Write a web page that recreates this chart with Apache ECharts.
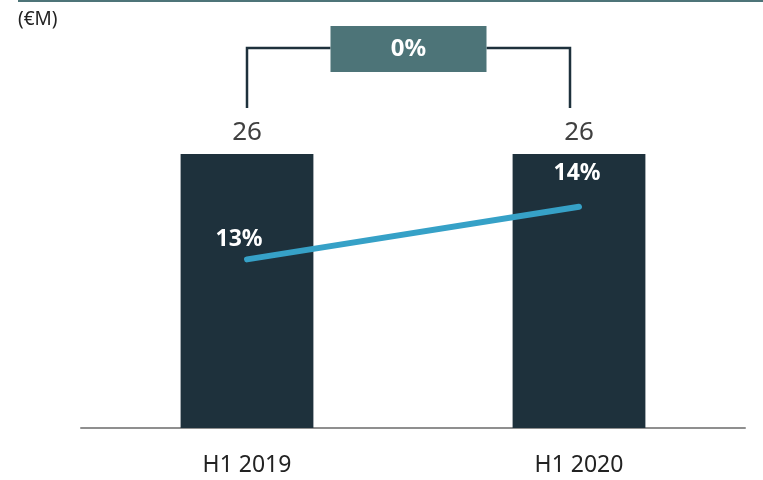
<!DOCTYPE html>
<html>
<head>
<meta charset="utf-8">
<script src="https://cdn.jsdelivr.net/npm/echarts@6/dist/echarts.min.js"></script>
<style>
  html, body { margin: 0; padding: 0; background: #fff; }
  #chart { width: 763px; height: 480px; }
</style>
</head>
<body>
<div id="chart"></div>
<script>
const categories = ["H1 2019", "H1 2020"];
const revenue = [26, 26];
const margin = [13, 14];
const marginLabels = ["13%", "14%"];
const growthLabel = "0%";
const unitLabel = "(€M)";

const font = "Noto Sans";
const chart = echarts.init(document.getElementById("chart"));

const option = {
  animation: false,
  textStyle: { fontFamily: font },
  grid: { left: 81, right: 18, top: 154, bottom: 52 },
  xAxis: {
    type: "category",
    data: categories,
    axisLine: { lineStyle: { color: "#8f8f8f", width: 2 } },
    axisTick: { show: false },
    axisLabel: { color: "#222", fontSize: 23, margin: 26, fontFamily: font }
  },
  yAxis: [
    { type: "value", min: 0, max: 26, show: false },
    { type: "value", min: 9.8, max: 15, show: false }
  ],
  series: [
    {
      type: "bar",
      data: revenue,
      barWidth: "40%",
      itemStyle: { color: "#1e313c" },
      label: {
        show: true,
        position: "top",
        distance: 8,
        color: "#404040",
        fontSize: 26,
        fontFamily: font
      }
    },
    {
      type: "line",
      yAxisIndex: 1,
      data: margin.map((v, i) => ({
        value: v,
        label: {
          formatter: marginLabels[i],
          offset: i === 0 ? [-8, 0] : [-2, -14]
        }
      })),
      symbol: "circle",
      symbolSize: 0,
      lineStyle: { color: "#36a1c7", width: 6, cap: "round" },
      label: {
        show: true,
        position: "top",
        distance: 8,
        color: "#fff",
        fontWeight: "bold",
        fontSize: 23,
        fontFamily: font
      }
    }
  ]
};
chart.setOption(option);

// bracket + growth box, placed from the axis scale
const p0 = chart.convertToPixel({ xAxisIndex: 0 }, 0);
const p1 = chart.convertToPixel({ xAxisIndex: 0 }, 1) - 9;
const mid = (p0 + p1) / 2;
const lineY = 48, lineBottom = 108, boxW = 156, boxH = 46;
const bracketStyle = { stroke: "#1e313c", lineWidth: 2.5, fill: null };

chart.setOption({
  graphic: [
    { type: "rect", shape: { x: 18, y: 0, width: 745, height: 2 }, style: { fill: "#4d7478" } },
    {
      type: "text", left: 18, top: 10,
      style: { text: unitLabel, fill: "#222", font: "19px " + font }
    },
    {
      type: "polyline",
      shape: { points: [[p0, lineBottom], [p0, lineY], [mid - boxW / 2, lineY]] },
      style: bracketStyle
    },
    {
      type: "polyline",
      shape: { points: [[mid + boxW / 2, lineY], [p1, lineY], [p1, lineBottom]] },
      style: bracketStyle
    },
    {
      type: "rect",
      shape: { x: mid - boxW / 2, y: 26, width: boxW, height: boxH },
      style: { fill: "#4d7478" }
    },
    {
      type: "text", x: mid, y: 26 + boxH / 2,
      style: {
        text: growthLabel, fill: "#fff", align: "center", verticalAlign: "middle",
        font: "bold 24px " + font
      }
    }
  ]
});
</script>
</body>
</html>
